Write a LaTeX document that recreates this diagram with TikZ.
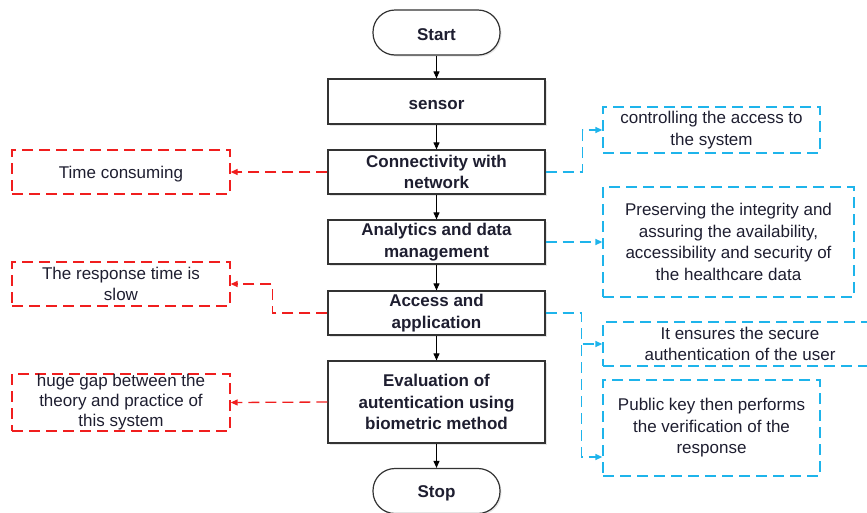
\documentclass[tikz,border=0pt]{standalone}
\usepackage{fontspec}
\setmainfont{Liberation Sans}
\usepackage{tikz}
\usetikzlibrary{arrows.meta, shadows, calc}

\definecolor{redline}{RGB}{240,30,30}
\definecolor{blueline}{RGB}{30,180,235}
\definecolor{inkcol}{RGB}{30,30,48}

\begin{document}
\begin{tikzpicture}[x = 1pt, y = -1pt,
  every node/.style = {text = inkcol, align = center, inner sep = 0pt,
    execute at begin node = {\rule{0pt}{17pt}}},
  mainbox/.style = {draw = black!80, line width = 1.2pt, fill = white,
    minimum width = 217pt, font = \fontsize{17}{21.5}\selectfont\bfseries,
    drop shadow = {shadow xshift = 1.5pt, shadow yshift = -1.5pt, opacity = 0.2}},
  termbox/.style = {mainbox, rounded corners = 22pt, minimum width = 127pt, minimum height = 45pt},
  redbox/.style = {draw = redline, line width = 1.3pt, dash pattern = on 11pt off 6pt,
    minimum width = 218pt, font = \fontsize{17}{21.5}\selectfont},
  bluebox/.style = {draw = blueline, line width = 1.3pt, dash pattern = on 11pt off 6pt,
    font = \fontsize{17}{21.5}\selectfont},
  flow/.style = {draw = black, line width = 1pt, -{Triangle[length = 7pt, width = 6pt]}},
  redarr/.style = {draw = redline, line width = 1.3pt, dash pattern = on 11pt off 6pt,
    -{Triangle[length = 7pt, width = 6pt]}},
  bluearr/.style = {draw = blueline, line width = 1.3pt, dash pattern = on 11pt off 6pt,
    -{Triangle[length = 7pt, width = 6pt]}}]

\useasboundingbox (0, 0) rectangle (867, 512);

\node[termbox] (start) at (436.5, 32.5) {Start};
\node[mainbox, minimum height = 45pt] (sensor) at (436.5, 101.5) {sensor};
\node[mainbox, minimum height = 44pt] (conn) at (436.5, 172) {Connectivity with\\network};
\node[mainbox, minimum height = 44pt] (anal) at (436.5, 242) {Analytics and data\\management};
\node[mainbox, minimum height = 44pt] (access) at (436.5, 313) {Access and\\application};
\node[mainbox, minimum height = 82pt] (eval) at (436.5, 402) {Evaluation of\\autentication using\\biometric method};
\node[termbox] (stop) at (436.5, 491) {Stop};

\node[redbox, minimum height = 44pt] (time) at (121, 172) {Time consuming};
\node[redbox, minimum height = 44pt] (resp) at (121, 284) {The response time is\\slow};
\node[redbox, minimum height = 57pt, font = \fontsize{17}{20}\selectfont] (gap) at (121, 402.5)
  {huge gap between the\\theory and practice of\\this system};

\node[bluebox, minimum width = 217pt, minimum height = 46pt] (ctrl) at (711.5, 130)
  {controlling the access to\\the system};
\node[bluebox, minimum width = 251pt, minimum height = 110pt] (pres) at (728.5, 242)
  {Preserving the integrity and\\assuring the availability,\\accessibility and security of\\the healthcare data};
\node[bluebox, minimum width = 274pt, minimum height = 44pt] (ens) at (740, 344)
  {It ensures the secure\\authentication of the user};
\node[bluebox, minimum width = 217pt, minimum height = 96pt] (pub) at (711.5, 428)
  {Public key then performs\\the verification of the\\response};

\draw[flow] (start) -- (sensor);
\draw[flow] (sensor) -- (conn);
\draw[flow] (conn) -- (anal);
\draw[flow] (anal) -- (access);
\draw[flow] (access) -- (eval);
\draw[flow] (eval) -- (stop);

\draw[redarr] (conn.west) -- (time.east);
\draw[redarr] (access.west) -- ++(-55, 0) |- (resp.east);
\draw[redarr] (eval.west) -- (gap.east);

\draw[bluearr] (conn.east) -- ++(37, 0) |- (ctrl.west);
\draw[bluearr] (anal.east) -- (pres.west);
\draw[bluearr] (access.east) -- ++(36, 0) |- (ens.west);
\draw[bluearr] (access.east) -- ++(36, 0) |- ([yshift = -29pt]pub.west);
\end{tikzpicture}
\end{document}
